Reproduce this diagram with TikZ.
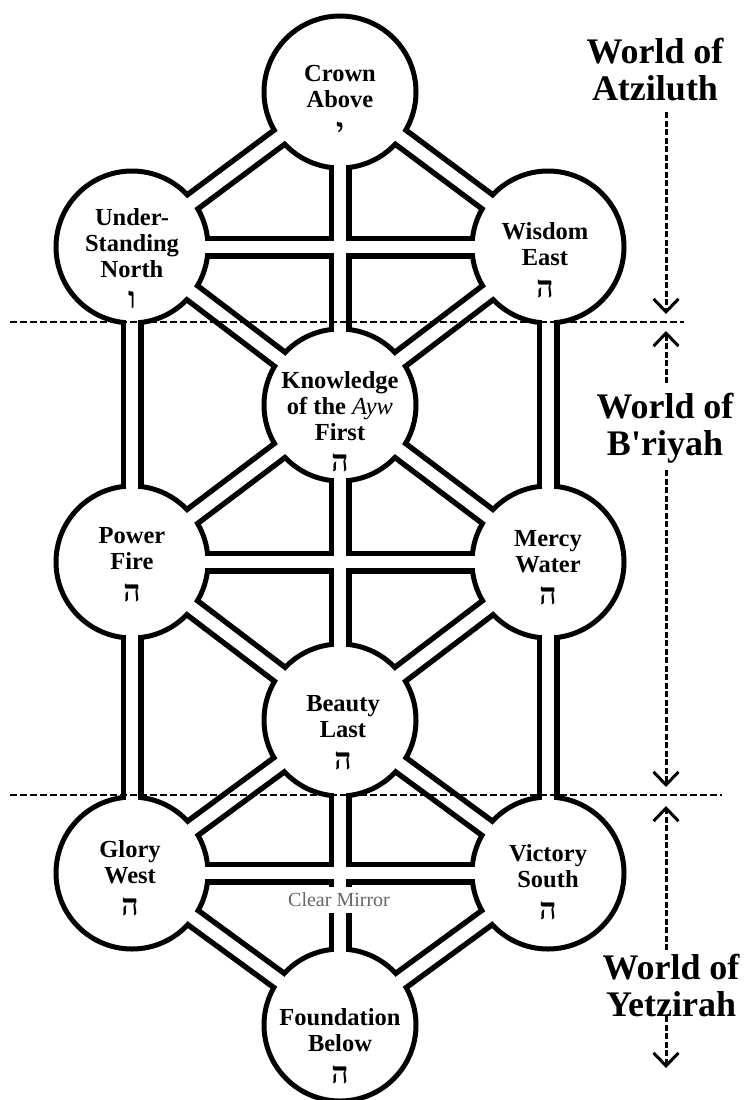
\documentclass[tikz,border=0pt]{standalone}
\usepackage{fontspec}
\setmainfont{Liberation Serif}
\newfontfamily\hebfont[Script=Hebrew]{Liberation Serif}
\TeXXeTstate=1
\usetikzlibrary{arrows.meta}
\newcommand{\heb}[1]{{\hebfont\fontsize{30}{26}\selectfont\beginR #1\endR}}
\begin{document}
\begin{tikzpicture}[x=1pt,y=-1pt,
  chanout/.style={line width=23pt,black},
  chanin/.style={line width=12pt,white},
  sefira/.style={circle,draw=black,line width=5pt,fill=white,minimum size=152pt,inner sep=0pt},
  stext/.style={font=\fontsize{24.5}{26}\selectfont\bfseries,align=center,inner sep=0pt},
  world/.style={font=\fontsize{36}{37}\selectfont\bfseries,align=center,inner sep=0pt},
  divider/.style={line width=2.4pt,dash pattern=on 7pt off 3pt},
  worldarrow/.style={line width=3pt,dash pattern=on 6pt off 2.5pt,-{Straight Barb[length=13pt,width=25pt,line width=3pt]}},
  mirror/.style={font=\fontsize{20}{22}\selectfont,text=black!60,fill=white,inner sep=0pt,minimum height=26pt,minimum width=108pt}
]
\useasboundingbox (0,0) rectangle (749,1100);
\fill[white] (0,0) rectangle (749,1100);

\coordinate (crown) at (340,92);
\coordinate (und) at (132,247);
\coordinate (wis) at (548,247);
\coordinate (kno) at (340,405);
\coordinate (pow) at (132,562);
\coordinate (mer) at (548,562);
\coordinate (bea) at (340,720);
\coordinate (glo) at (132,873);
\coordinate (vic) at (548,873);
\coordinate (fou) at (340,1025);

\foreach \a/\b in {crown/und,crown/wis,crown/kno,und/wis,und/kno,wis/kno,und/pow,wis/mer,
  kno/pow,kno/mer,kno/bea,pow/mer,pow/bea,mer/bea,pow/glo,mer/vic,bea/glo,bea/vic,bea/fou,
  glo/vic,glo/fou,vic/fou}
  \draw[chanout] (\a) -- (\b);

\node[sefira] (crownC) at (crown) {};
\node[sefira] (undC) at (und) {};
\node[sefira] (wisC) at (wis) {};
\node[sefira] (knoC) at (kno) {};
\node[sefira] (powC) at (pow) {};
\node[sefira] (merC) at (mer) {};
\node[sefira] (beaC) at (bea) {};
\node[sefira] (gloC) at (glo) {};
\node[sefira] (vicC) at (vic) {};
\node[sefira] (fouC) at (fou) {};

\foreach \a/\b in {crown/und,crown/wis,crown/kno,und/wis,und/kno,wis/kno,und/pow,wis/mer,
  kno/pow,kno/mer,kno/bea,pow/mer,pow/bea,mer/bea,pow/glo,mer/vic,bea/glo,bea/vic,bea/fou,
  glo/vic,glo/fou,vic/fou}
  \draw[chanin] (\a) -- (\b);

\node[stext] (crownT) at (340,102) {Crown\\Above\\[6pt]\heb{י}};
\node[stext] (undT) at (132,259) {Under-\\Standing\\North\\[5pt]\heb{ו}};
\node[stext] (wisT) at (545,260) {Wisdom\\East\\[6pt]\heb{ה}};
\node[stext] (knoT) at (340,422) {Knowledge\\of the {\fontseries{m}\itshape Ayw}\\First\\[5pt]\heb{ה}};
\node[stext] (powT) at (132,565) {Power\\Fire\\[6pt]\heb{ה}};
\node[stext] (merT) at (548,568) {Mercy\\Water\\[6pt]\heb{ה}};
\node[stext] (beaT) at (343,733) {Beauty\\Last\\[6pt]\heb{ה}};
\node[stext] (gloT) at (130,878) {Glory\\West\\[6pt]\heb{ה}};
\node[stext] (vicT) at (548,882) {Victory\\South\\[6pt]\heb{ה}};
\node[stext] (fouT) at (340,1046) {Foundation\\Below\\[6pt]\heb{ה}};
\node[mirror] (mirrorT) at (339,900) {Clear Mirror};

\coordinate (d1l) at (10,322);
\coordinate (d1r) at (684,322);
\coordinate (d2l) at (10,795);
\coordinate (d2r) at (722,795);
\draw[divider] (d1l) -- (d1r);
\draw[divider] (d2l) -- (d2r);

\node[world] (atz) at (655,70) {World of\\Atziluth};
\node[world] (bri) at (665,428) {World of\\B\textquotesingle riyah};
\node[world] (yet) at (671,985) {World of\\Yetzirah};

\coordinate (a1s) at (666,112);
\coordinate (a1e) at (666,314);
\coordinate (b1s) at (666,383);
\coordinate (b1e) at (666,331);
\coordinate (b2s) at (666,470);
\coordinate (b2e) at (666,787);
\coordinate (c1s) at (666,950);
\coordinate (c1e) at (666,806);
\coordinate (c2s) at (666,1016);
\coordinate (c2e) at (666,1068);
\draw[worldarrow] (a1s) -- (a1e);
\draw[worldarrow] (b1s) -- (b1e);
\draw[worldarrow] (b2s) -- (b2e);
\draw[worldarrow] (c1s) -- (c1e);
\draw[worldarrow] (c2s) -- (c2e);
\end{tikzpicture}
\end{document}
